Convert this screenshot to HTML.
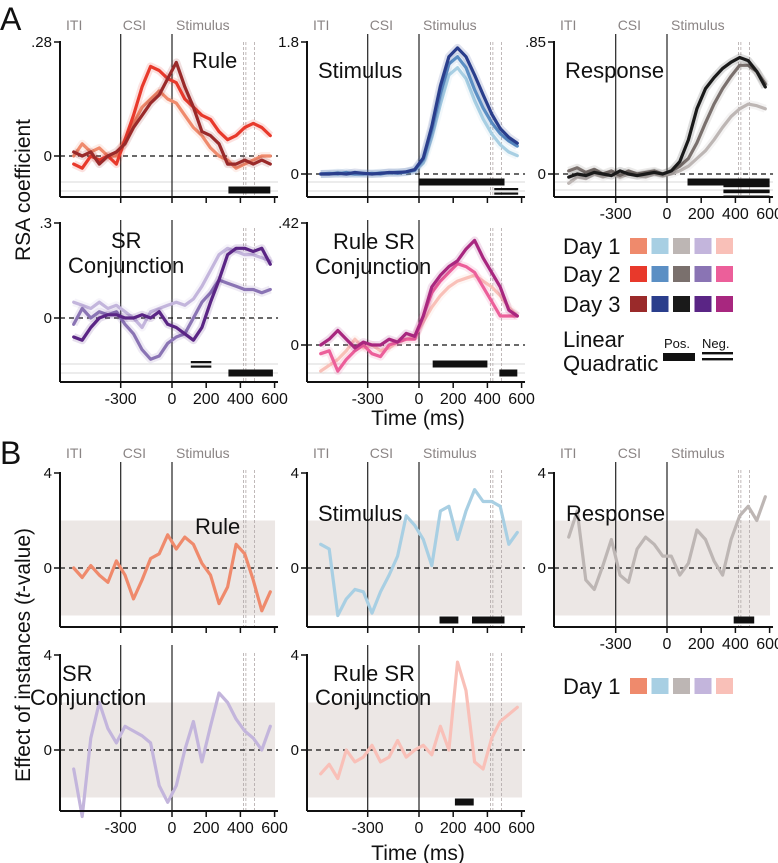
<!DOCTYPE html>
<html><head><meta charset="utf-8"><style>
body{margin:0;background:#fff;}
svg{display:block;font-family:"Liberation Sans",Arial,sans-serif;}
</style></head><body>
<svg id="fig" width="778" height="863" viewBox="0 0 778 863" xmlns="http://www.w3.org/2000/svg"></svg>
<script>
// shared time grid (ms)
const times=[-575,-525,-475,-425,-375,-325,-275,-225,-175,-125,-75,-25,25,75,125,175,225,275,325,375,425,475,525,575];
const xTickLabels=[-300,0,200,400,600];
// Panel A data
const ruleDay1=[0.0,0.03,0.01,0.02,0.0,0.0,0.04,0.08,0.12,0.14,0.16,0.14,0.13,0.10,0.07,0.05,0.02,0.0,-0.01,-0.03,-0.02,-0.01,0.0,0.0];
const ruleDay2=[-0.02,-0.03,0.0,-0.01,0.0,-0.02,0.04,0.10,0.17,0.22,0.21,0.19,0.18,0.14,0.12,0.10,0.09,0.06,0.04,0.05,0.07,0.08,0.07,0.05];
const ruleDay3=[0.01,0.0,0.01,-0.02,0.0,0.01,0.03,0.07,0.10,0.13,0.15,0.19,0.23,0.17,0.12,0.06,0.05,0.03,-0.02,-0.02,-0.01,-0.02,-0.01,-0.02];
const stimDay1=[0,0,0.02,0,0,0.01,0,0.02,0.01,0.03,0.02,0.05,0.15,0.5,0.95,1.35,1.45,1.3,1.0,0.75,0.55,0.4,0.3,0.25];
const stimDay2=[0,0.01,0,0.02,0,0,0.01,0,0.02,0.01,0.03,0.05,0.2,0.6,1.1,1.5,1.6,1.45,1.15,0.9,0.7,0.55,0.45,0.38];
const stimDay3=[0,0,0.01,0,0.02,0.01,0,0.01,0.02,0.02,0.03,0.06,0.22,0.65,1.2,1.6,1.72,1.6,1.35,1.08,0.82,0.62,0.5,0.42];
const respDay1=[-0.06,-0.02,-0.03,0.0,-0.02,0.0,-0.02,0.0,-0.01,-0.02,0.0,-0.01,0.0,0.02,0.05,0.1,0.15,0.22,0.3,0.37,0.42,0.45,0.44,0.42];
const respDay2=[0.02,0.04,0.01,0.03,0.0,0.02,-0.01,0.02,0.0,0.01,0.02,0.0,0.02,0.05,0.1,0.2,0.33,0.45,0.55,0.63,0.7,0.7,0.66,0.58];
const respDay3=[-0.02,0.0,-0.01,0.01,0.0,-0.01,0.02,0.0,-0.01,0.0,0.01,0.0,0.02,0.08,0.22,0.42,0.55,0.62,0.68,0.72,0.75,0.73,0.66,0.56];
const srDay1=[0.05,0.04,0.03,0.05,0.03,0.04,0.02,0.0,-0.03,0.02,0.03,0.04,0.05,0.04,0.06,0.1,0.15,0.2,0.22,0.21,0.2,0.2,0.19,0.18];
const srDay2=[-0.02,0.03,0.0,0.02,0.01,0.02,-0.02,-0.05,-0.1,-0.13,-0.12,-0.08,-0.06,-0.05,0.0,0.05,0.08,0.12,0.11,0.1,0.09,0.09,0.08,0.09];
const srDay3=[-0.06,-0.07,-0.03,0.0,0.01,0.01,0.0,0.0,0.01,0.0,0.02,-0.02,-0.03,-0.05,-0.07,-0.03,0.05,0.12,0.2,0.22,0.22,0.21,0.22,0.17];
const rsrDay1=[-0.09,-0.07,-0.05,-0.02,0.02,-0.01,0.0,-0.02,-0.01,0.01,0.02,0.03,0.08,0.13,0.17,0.2,0.22,0.23,0.24,0.22,0.2,0.17,0.13,0.1];
const rsrDay2=[-0.03,-0.02,-0.09,-0.05,-0.02,0.0,-0.03,-0.04,0.0,0.01,0.02,0.02,0.1,0.18,0.22,0.25,0.28,0.27,0.25,0.2,0.15,0.1,0.1,0.1];
const rsrDay3=[0.0,0.02,0.05,0.02,-0.01,0.01,0.0,0.0,0.02,0.01,0.04,0.03,0.1,0.2,0.24,0.27,0.29,0.33,0.36,0.3,0.25,0.2,0.12,0.1];
// Panel B data (t-values)
const bRule=[0,-0.4,0.1,-0.3,-0.6,0.3,-0.3,-1.3,-0.5,0.4,0.6,1.4,0.8,1.3,1.0,0.2,-0.3,-1.5,-0.8,1.0,0.6,-0.5,-1.8,-1.0];
const bStim=[1.0,0.8,-2.0,-1.3,-0.9,-1.0,-1.9,-1.0,-0.3,0.5,2.2,1.8,1.2,0.1,2.4,2.6,1.2,2.4,3.3,2.8,2.8,2.6,1.0,1.5];
const bResp=[1.3,2.4,-0.5,-0.9,0.1,1.2,-0.3,-0.6,0.8,1.3,1.0,0.5,0.5,-0.3,0.2,1.6,1.2,0.3,-0.3,1.2,2.2,2.6,2.0,3.0];
const bSR=[-0.8,-2.8,0.5,2.0,0.9,0.3,1.0,0.8,0.6,0.3,-1.5,-2.2,-1.5,0.0,1.2,-0.5,1.0,2.4,2.0,1.3,0.8,0.5,0.0,1.0];
const bRuleSR=[-1.0,-0.6,-1.2,0.0,-0.5,-0.3,0.2,-0.5,-0.3,0.4,-0.3,0.0,0.2,-0.2,1.0,0.0,3.7,2.5,-0.5,-0.8,0.5,1.2,1.5,1.8];

const NS="http://www.w3.org/2000/svg";
const svg=document.getElementById('fig');
function mk(tag,attrs,parent,text){const e=document.createElementNS(NS,tag);for(const k in attrs)e.setAttribute(k,attrs[k]);if(text!==undefined)e.textContent=text;(parent||svg).appendChild(e);return e;}

const C1=['#ef8a6c','#a8cfe3','#bdb6b4','#c3b5dc','#f9c0b8'];
const C2=['#e8392b','#5b8fc4','#7a706d','#8a74b4','#ec5f9a'];
const C3=['#9a2a2a','#2a3e8c','#1a1a1a','#5a2585','#a8277f'];

function panel(p){
  const g=mk('g',{});
  
  
  const X=t=>p.x0+t*0.171;
  const Y=v=>p.zero-v*(p.zero-p.top)/p.topVal;
  const right=X(620);
  if(p.shade){const r=mk('rect',{x:p.axisX,y:Y(2),width:X(620)-p.axisX-3,height:Y(-2)-Y(2),fill:'#ece7e5'},g);
    }
  (p.grayLines||[]).forEach(yy=>mk('line',{x1:p.axisX,x2:right,y1:yy,y2:yy,stroke:'#d8d8d8','stroke-width':1},g));
  [-300,0].forEach(t=>mk('line',{x1:X(t),x2:X(t),y1:p.lineTop,y2:p.bottom,stroke:'#222','stroke-width':1.2},g));
  [418,432,482].forEach(t=>mk('line',{x1:X(t),x2:X(t),y1:p.lineTop+8,y2:p.bottom,stroke:'#b0a8a8','stroke-width':0.8,'stroke-dasharray':'3,2'},g));
  if(p.events){
    const el=[['ITI',p.axisX+6],['CSI',X(-300)+2],['Stimulus',X(0)+4]];
    el.forEach(([s,x])=>{const t=mk('text',{x:x,y:p.lineTop-4,'font-size':14,fill:'#8a8484'},g,s);});
  }
  mk('line',{x1:p.axisX,x2:right,y1:p.zero,y2:p.zero,stroke:'#111','stroke-width':1.3,'stroke-dasharray':'5,4'},g);
  p.series.forEach((s,i)=>{
    const d=times.map((t,j)=>(j?'L':'M')+X(t).toFixed(1)+','+Y(s.v[j]).toFixed(1)).join(' ');
    if(!p.shade) mk('path',{d:d,fill:'none',stroke:s.c,'stroke-width':8,'stroke-opacity':0.15,'stroke-linejoin':'round'},g);
    const pa=mk('path',{d:d,fill:'none',stroke:s.c,'stroke-width':3.2,'stroke-linejoin':'round','stroke-linecap':'round'},g);
    
    
  });
  (p.bars||[]).forEach(b=>{
    if(b.dbl){mk('rect',{x:X(b.a),y:b.y-3,width:X(b.b)-X(b.a),height:2.2,fill:'#111'},g);mk('rect',{x:X(b.a),y:b.y+1.5,width:X(b.b)-X(b.a),height:2.2,fill:'#111'},g);}
    else{const r=mk('rect',{x:X(b.a),y:b.y-3.5,width:X(b.b)-X(b.a),height:7,fill:'#111'},g);}
  });
  mk('line',{x1:p.axisX,x2:p.axisX,y1:p.top-1,y2:p.bottom,stroke:'#111','stroke-width':2},g);
  mk('line',{x1:p.axisX,x2:right,y1:p.bottom,y2:p.bottom,stroke:'#111','stroke-width':2},g);
  mk('line',{x1:p.axisX-6,x2:p.axisX,y1:p.top,y2:p.top,stroke:'#111','stroke-width':1.5},g);
  mk('line',{x1:p.axisX-6,x2:p.axisX,y1:p.zero,y2:p.zero,stroke:'#111','stroke-width':1.5},g);
  mk('text',{x:p.axisX-8,y:p.top+5,'font-size':15,'text-anchor':'end',fill:'#111'},g,p.topLabel);
  mk('text',{x:p.axisX-8,y:p.zero+5,'font-size':15,'text-anchor':'end',fill:'#111'},g,'0');
  xTickLabels.forEach(t=>{
    mk('line',{x1:X(t),x2:X(t),y1:p.bottom,y2:p.bottom+6,stroke:'#111','stroke-width':1.5},g);
    if(p.tickLabels) mk('text',{x:X(t),y:p.bottom+22,'font-size':16,'text-anchor':'middle',fill:'#111'},g,String(t));
  });
  p.title.forEach(([s,x,y])=>mk('text',{x:x,y:y,'font-size':22,fill:'#111'},g,s));
}

const colX0=[172,419,667], colAxis=[60,307,554];
panel({name:'panel-a-rule',x0:colX0[0],axisX:colAxis[0],top:42,zero:156,topVal:0.28,topLabel:'.28',bottom:197,lineTop:34,events:true,
  series:[{v:ruleDay1,c:C1[0],n:'rule-day1-line'},{v:ruleDay2,c:C2[0],n:'rule-day2-line'},{v:ruleDay3,c:C3[0],n:'rule-day3-line'}],
  grayLines:[182,191],bars:[{a:330,b:575,y:190}],title:[['Rule',192,68]]});
panel({name:'panel-a-stimulus',x0:colX0[1],axisX:colAxis[1],top:42,zero:174,topVal:1.8,topLabel:'1.8',bottom:197,lineTop:34,events:true,
  series:[{v:stimDay1,c:C1[1],n:'stimulus-day1-line'},{v:stimDay2,c:C2[1],n:'stimulus-day2-line'},{v:stimDay3,c:C3[1],n:'stimulus-day3-line'}],
  grayLines:[182,191],bars:[{a:0,b:500,y:182},{a:440,b:580,y:191,dbl:true}],title:[['Stimulus',318,78]]});
panel({name:'panel-a-response',x0:colX0[2],axisX:colAxis[2],top:42,zero:174,topVal:0.85,topLabel:'.85',bottom:197,lineTop:34,tickLabels:true,events:true,
  series:[{v:respDay1,c:C1[2],n:'response-day1-line'},{v:respDay2,c:C2[2],n:'response-day2-line'},{v:respDay3,c:C3[2],n:'response-day3-line'}],
  grayLines:[182,190],bars:[{a:120,b:600,y:182},{a:330,b:600,y:188,dbl:true},{a:330,b:600,y:194,dbl:true}],title:[['Response',565,78]]});
panel({name:'panel-a-sr-conjunction',x0:colX0[0],axisX:colAxis[0],top:223,zero:318,topVal:0.3,topLabel:'.3',bottom:382,lineTop:220,tickLabels:true,
  series:[{v:srDay1,c:C1[3],n:'sr-day1-line'},{v:srDay2,c:C2[3],n:'sr-day2-line'},{v:srDay3,c:C3[3],n:'sr-day3-line'}],
  grayLines:[364,373],bars:[{a:110,b:230,y:364,dbl:true},{a:330,b:590,y:373}],title:[['SR',111,248],['Conjunction',68,273]]});
panel({name:'panel-a-rule-sr-conjunction',x0:colX0[1],axisX:colAxis[1],top:223,zero:345,topVal:0.42,topLabel:'.42',bottom:382,lineTop:220,tickLabels:true,
  series:[{v:rsrDay1,c:C1[4],n:'rule-sr-day1-line'},{v:rsrDay2,c:C2[4],n:'rule-sr-day2-line'},{v:rsrDay3,c:C3[4],n:'rule-sr-day3-line'}],
  grayLines:[364,373],bars:[{a:80,b:400,y:364},{a:470,b:575,y:373}],title:[['Rule SR',333,249],['Conjunction',315,274]]});

panel({name:'panel-b-rule',x0:colX0[0],axisX:colAxis[0],top:473,zero:568,topVal:4,topLabel:'4',bottom:627,lineTop:462,shade:true,events:true,
  series:[{v:bRule,c:C1[0],n:'b-rule-line'}],title:[['Rule',195,534]]});
panel({name:'panel-b-stimulus',x0:colX0[1],axisX:colAxis[1],top:473,zero:568,topVal:4,topLabel:'4',bottom:627,lineTop:462,shade:true,events:true,
  series:[{v:bStim,c:C1[1],n:'b-stimulus-line'}],bars:[{a:120,b:230,y:620},{a:310,b:500,y:620}],title:[['Stimulus',318,521]]});
panel({name:'panel-b-response',x0:colX0[2],axisX:colAxis[2],top:473,zero:568,topVal:4,topLabel:'4',bottom:627,lineTop:462,shade:true,tickLabels:true,events:true,
  series:[{v:bResp,c:C1[2],n:'b-response-line'}],bars:[{a:390,b:510,y:620}],title:[['Response',566,521]]});
panel({name:'panel-b-sr-conjunction',x0:colX0[0],axisX:colAxis[0],top:655,zero:750,topVal:4,topLabel:'4',bottom:811,lineTop:645,shade:true,tickLabels:true,
  series:[{v:bSR,c:C1[3],n:'b-sr-line'}],title:[['SR',62,681],['Conjunction',30,705]]});
panel({name:'panel-b-rule-sr-conjunction',x0:colX0[1],axisX:colAxis[1],top:655,zero:750,topVal:4,topLabel:'4',bottom:811,lineTop:645,shade:true,tickLabels:true,
  series:[{v:bRuleSR,c:C1[4],n:'b-rule-sr-line'}],bars:[{a:210,b:320,y:802}],title:[['Rule SR',333,681],['Conjunction',315,705]]});

let t=mk('text',{x:0,y:30,'font-size':32,fill:'#111'},svg,'A');
t=mk('text',{x:0,y:464,'font-size':32,fill:'#111'},svg,'B');
t=mk('text',{x:30,y:190,'font-size':21,fill:'#111','text-anchor':'middle',transform:'rotate(-90 30 190)'},svg,'RSA coefficient');

t=mk('text',{x:30,y:655,'font-size':21,fill:'#111','text-anchor':'middle',transform:'rotate(-90 30 655)'},svg);

t.innerHTML='Effect of instances (<tspan font-style="italic">t</tspan>-value)';
t=mk('text',{x:418,y:425,'font-size':21,fill:'#111','text-anchor':'middle'},svg,'Time (ms)');
t=mk('text',{x:418,y:860,'font-size':21,fill:'#111','text-anchor':'middle'},svg,'Time (ms)');

function legendRow(label,cols,y,name){
  const g=mk('g',{});
  
  
  mk('text',{x:563,y:y+8,'font-size':22,fill:'#111'},g,label);
  cols.forEach((c,i)=>mk('rect',{x:630+i*21.5,y:y-8,width:17,height:16,fill:c},g));
}
legendRow('Day 1',C1,246,'legend-a-day1');
legendRow('Day 2',C2,274,'legend-a-day2');
legendRow('Day 3',C3,304,'legend-a-day3');
legendRow('Day 1',C1,686,'legend-b-day1');
t=mk('text',{x:563,y:347,'font-size':22,fill:'#111'},svg,'Linear');
t=mk('text',{x:563,y:371,'font-size':22,fill:'#111'},svg,'Quadratic');
mk('text',{x:664,y:348,'font-size':13,fill:'#111'},svg,'Pos.');
mk('text',{x:702,y:348,'font-size':13,fill:'#111'},svg,'Neg.');
t=mk('rect',{x:663,y:353,width:32,height:8,fill:'#111'});
mk('rect',{x:702,y:352,width:31,height:2.4,fill:'#111'});
mk('rect',{x:702,y:358,width:31,height:2.4,fill:'#111'});
</script>
</body></html>
